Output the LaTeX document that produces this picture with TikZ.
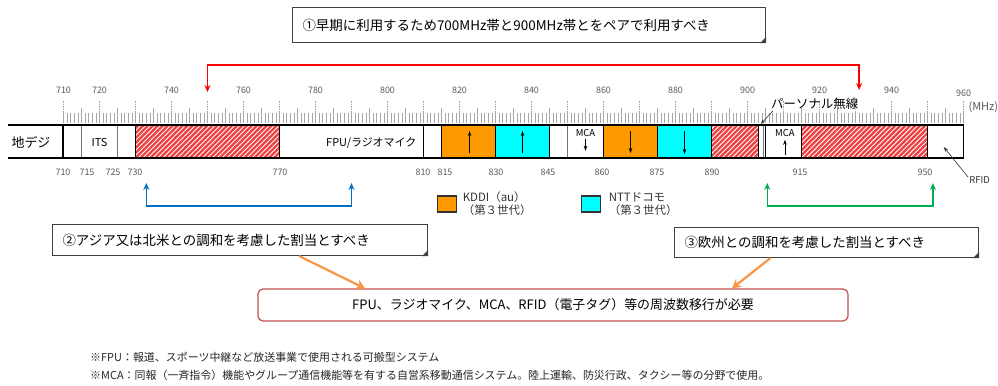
\documentclass[tikz,border=0pt]{standalone}
\usepackage{fontspec}
\setmainfont{Noto Sans CJK JP}
\usetikzlibrary{arrows.meta,patterns.meta,positioning}

\definecolor{kddi}{RGB}{255,153,0}
\definecolor{docomo}{RGB}{0,255,255}
\definecolor{hatchred}{RGB}{238,64,64}
\definecolor{callout}{RGB}{247,150,70}
\definecolor{shiftred}{RGB}{192,80,77}
\definecolor{pairblue}{RGB}{0,112,192}
\definecolor{pairgreen}{RGB}{0,176,80}

\tikzset{
  band/.style={draw=black, line width=1.2bp},
  sepline/.style={draw=black!55, line width=0.8bp},
  hatched/.style={fill=hatchred, postaction={pattern={Lines[angle=45,distance=3.5bp,line width=0.9bp]}, pattern color=white}},
  tick/.style={draw=black!35, line width=0.5bp},
  mhz/.style={font=\fontsize{9}{10}\selectfont, text=black!65, inner sep=0pt},
  bandtext/.style={font=\fontsize{11}{12}\selectfont, inner sep=0pt},
  mcatext/.style={font=\fontsize{9.5}{10}\selectfont, inner sep=0pt},
  dirarrow/.style={-{Stealth[length=5bp,width=3.5bp]}, line width=0.9bp},
  thinarrow/.style={-{Stealth[length=5bp,width=3.5bp]}, line width=0.6bp, draw=black!80},
  pairarrow/.style={{Stealth[length=7bp,width=6bp]}-{Stealth[length=7bp,width=6bp]}, line width=1.3bp},
  note/.style={draw=black!75, line width=1bp, fill=white, inner xsep=10bp, inner ysep=0pt,
    align=left, font=\fontsize{13.5}{15}\selectfont, anchor=north west},
  shiftbox/.style={draw=shiftred, line width=1.2bp, rounded corners=5bp, fill=white,
    minimum width=590bp, minimum height=32bp, font=\fontsize{13}{15}\selectfont},
  callarrow/.style={-{Stealth[length=9bp,width=10bp]}, line width=2.2bp, draw=callout},
  keybox/.style={draw=black!80, line width=1.2bp, minimum width=19bp, minimum height=16bp, inner sep=0pt},
  keytext/.style={font=\fontsize{11.5}{13}\selectfont, align=left, inner sep=0pt, text=black!80},
  footnote/.style={font=\fontsize{11}{13}\selectfont, anchor=west, inner sep=0pt, text=black!85},
}

\begin{document}
\begin{tikzpicture}[x=1bp, y=-1bp]
\useasboundingbox (0,0) rectangle (998,385);

% goals
\node[note, text width=453bp, minimum height=35bp] (aim1) at (292,7) {①早期に利用するため700MHz帯と900MHz帯とをペアで利用すべき};
\node[note, text width=355bp, minimum height=31bp] (aim2) at (52,224) {②アジア又は北米との調和を考慮した割当とすべき};
\node[note, text width=284bp, minimum height=30bp] (aim3) at (674,227) {③欧州との調和を考慮した割当とすべき};
\foreach \b in {aim1,aim2,aim3}
  \fill[black!75] (\b.south east) -- ++(-6,0) -- ++(6,-6) -- cycle;

\node[shiftbox] (shift) at (553,305) {FPU、ラジオマイク、MCA、RFID（電子タグ）等の周波数移行が必要};

% left part of the bar
\draw[band] (8,125) -- (63.5,125) (8,158) -- (63.5,158);
\node[bandtext, font=\fontsize{13}{14}\selectfont] (chidigi) at (31,142) {地デジ};

\begin{scope}[x=3.6bp, xshift=-2492.5bp]
  % ruler
  \foreach \f in {710,...,960} \draw[tick] (\f,113) -- (\f,123);
  \foreach \f in {715,725,...,955} \draw[tick] (\f,108) -- (\f,113);
  \foreach \f in {710,720,...,960} \draw[tick, dash pattern=on 1.5bp off 1bp] (\f,101) -- (\f,113);
  \foreach \f in {710,720} \node[mhz] (top\f) at (\f,90) {\f};
  \foreach \f in {740,760,...,940} \node[mhz] (top\f) at (\f,90) {\f};
  \node[mhz] (top960) at (960,93) {960};

  % bands
  \path[hatched] (730,125) rectangle (770,158);
  \path[hatched] (890,125) rectangle (903,158);
  \path[hatched] (915,125) rectangle (950,158);
  \fill[kddi] (815,125) rectangle (830,158);
  \fill[kddi] (860,125) rectangle (875,158);
  \fill[docomo] (830,125) rectangle (845,158);
  \fill[docomo] (875,125) rectangle (890,158);
  \draw[sepline] (715,125) -- (715,158) (725,125) -- (725,158)
                 (850,125) -- (850,158) (904.4,125) -- (904.4,158);
  \draw[band] (710,125) rectangle (960,158);
  \draw[band] (730,125) rectangle (770,158);
  \draw[band] (770,125) rectangle (810,158);
  \draw[band] (815,125) rectangle (830,158);
  \draw[band] (830,125) rectangle (845,158);
  \draw[band] (860,125) rectangle (875,158);
  \draw[band] (875,125) rectangle (890,158);
  \draw[band] (890,125) rectangle (903,158);
  \draw[band] (905,125) rectangle (915,158);
  \draw[band] (915,125) rectangle (950,158);
  \draw[band, line width=2bp] (710,125) -- (710,158);

  \node[bandtext] (its) at (720,142) {ITS};
  \node[bandtext] (fpu) at (795.5,143) {FPU/ラジオマイク};
  \node[mcatext] (mcaA) at (855,133) {MCA};
  \node[mcatext] (mcaB) at (910.4,133) {MCA};

  % up / down links
  \draw[dirarrow] (822.8,153) -- ++(0,-22);
  \draw[dirarrow] (837.5,153) -- ++(0,-22);
  \draw[dirarrow] (867.5,131) -- ++(0,22);
  \draw[dirarrow, line width=1.3bp] (882.5,131) -- ++(0,23);
  \draw[dirarrow, line width=0.7bp] (mcaA.south) ++(0,2) -- ++(0,12);
  \draw[dirarrow, line width=0.7bp] (910.4,155) -- ([yshift=-3bp]mcaB.south);

  % small labels
  \node[bandtext, font=\fontsize{12.5}{13}\selectfont, anchor=west] (pers) at (906.5,104) {パーソナル無線};
  \coordinate (perspt) at (903.7,124);
  \draw[thinarrow] ([xshift=2bp,yshift=-1bp]pers.south west) -- (perspt);
  \node[mhz, font=\fontsize{11}{12}\selectfont] (unit) at (965.5,107) {(MHz)};
  \node[mhz, font=\fontsize{9.5}{10}\selectfont, text=black!80] (rfid) at (964.5,180) {RFID};
  \coordinate (rfidpt) at (954.5,147);
  \draw[thinarrow] ([xshift=-1bp,yshift=-1bp]rfid.north west) -- (rfidpt);

  % pairing arrows
  \coordinate (pairA1) at (750,92);
  \coordinate (pairA2) at (931,90);
  \draw[pairarrow, draw=red] (pairA1) -- ++(0,-27) -| (pairA2);
  \coordinate (pairB1) at (733,183);
  \coordinate (pairB2) at (790,183);
  \draw[pairarrow, draw=pairblue] (pairB1) -- ++(0,23) -| (pairB2);
  \coordinate (pairC1) at (905.5,183);
  \coordinate (pairC2) at (951.5,183);
  \draw[pairarrow, draw=pairgreen] (pairC1) -- ++(0,23) -| (pairC2);
\end{scope}

% lower frequency labels
\foreach \px/\f in {63/710,87/715,113/725,135/730,280/770,423/810,445/815,496/830,548/845,602/860,657/875,712/890,800/915,925/950}
  \node[mhz] (low\f) at (\px,172) {\f};

% legend
\node[keybox, fill=kddi] (kddikey) at (447,204) {};
\node[keytext, right=5.5bp of kddikey] (kdditext) {KDDI（au）\\（第３世代）};
\node[keybox, fill=docomo] (docomokey) at (591,204) {};
\node[keytext, right=7.5bp of docomokey] (docomotext) {NTTドコモ\\（第３世代）};

% callouts
\draw[callarrow] ([xshift=59bp]aim2.south) -- ([xshift=-188bp]shift.north);
\draw[callarrow] ([xshift=-56bp]aim3.south) -- ([xshift=179bp]shift.north);

% notes
\node[footnote] (noteA) at (90,357) {※FPU：報道、スポーツ中継など放送事業で使用される可搬型システム};
\node[footnote] (noteB) at (90,375) {※MCA：同報（一斉指令）機能やグループ通信機能等を有する自営系移動通信システム。陸上運輸、防災行政、タクシー等の分野で使用。};
\end{tikzpicture}
\end{document}
